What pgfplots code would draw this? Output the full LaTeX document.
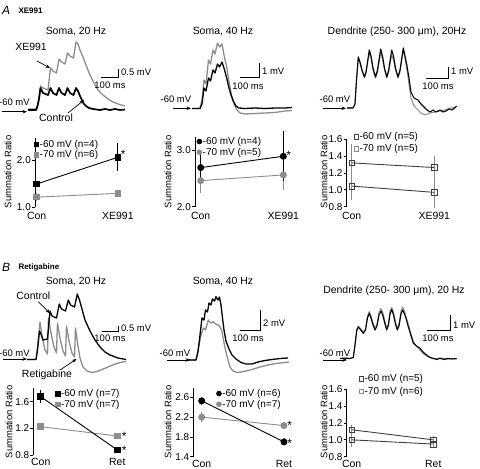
\documentclass[border=0pt]{standalone}
\usepackage{pgfplots}
\pgfplotsset{compat=1.18}
\usepackage{fontspec}
\setmainfont{Liberation Sans}
\usetikzlibrary{arrows.meta}
\definecolor{mg}{gray}{0.55}
\definecolor{dg}{gray}{0.25}
\newcommand{\fs}[1]{\fontsize{#1}{#1}\selectfont}
\tikzset{sstar/.style={font=\fs{12}, yshift=-1bp, inner sep=0pt}}
\pgfplotsset{
 sumplot/.style={scale only axis, anchor=south west, axis y line=left, axis x line=bottom,
   axis line style={-}, x axis line style={draw=none}, xtick={0,1}, major x tick style={draw=none},
   tick align=outside, major tick length=3bp, y axis line style={line width=0.8bp},
   every tick/.style={line width=0.8bp, black},
   tick label style={font=\fs{10}}, /pgf/number format/assume math mode=true,
   yticklabel style={inner sep=1pt, /pgf/number format/.cd, fixed, fixed zerofill, precision=1},
   xticklabel style={inner sep=1pt, font=\fs{10.5}}, clip=false, legend cell align=left,
   legend style={draw=none, fill=none, inner sep=0pt, font=\fs{10}, anchor=north west, row sep=0pt, nodes={inner sep=1pt}},
   legend image code/.code={\draw[mark repeat=2,mark phase=2,##1] plot coordinates {(0cm,0cm)(0.08cm,0cm)(0.16cm,0cm)};},
   every axis plot/.append style={line width=0.9bp},
 },
 rowA/.style={xticklabel style={yshift=-1.5bp}},
 rowB/.style={xticklabel style={yshift=1bp}},
 eb/.style={error bars/.cd, y dir=both, y explicit, error mark=none, error bar style={line width=0.9bp}},
 ebg/.style={error bars/.cd, y dir=both, y explicit, error mark=none, error bar style={line width=0.9bp, mg}},
 tr/.style={line width=1.3bp, line join=round},
 arr/.style={-{Stealth[length=4.5bp,width=3.5bp]}, line width=0.7bp, black},
}
\begin{document}
\begin{tikzpicture}
\useasboundingbox (0,0) rectangle (480bp,469bp);
% ---------------- canvas for traces (pixel coordinates, y downward) ----------------
\begin{axis}[at={(0,0)}, anchor=south west, scale only axis, width=480bp, height=469bp,
  xmin=0, xmax=480, ymin=0, ymax=469, y dir=reverse, hide axis, clip=false]
% panel letters
\node[font=\fs{12}\itshape] at (axis cs:6,10) {A};
\node[font=\fs{8}\bfseries, anchor=west] at (axis cs:15,10.5) {XE991};
\node[font=\fs{12}\itshape] at (axis cs:6,267) {B};
\node[font=\fs{8}\bfseries, anchor=west] at (axis cs:15,267.5) {Retigabine};
% titles
\node[font=\fs{10.5}] at (axis cs:76,32) {Soma, 20 Hz};
\node[font=\fs{10.5}] at (axis cs:223,32) {Soma, 40 Hz};
\node[font=\fs{10.5}] at (axis cs:397,32) {Dendrite (250- 300 μm), 20Hz};
\node[font=\fs{10.5}] at (axis cs:76,282) {Soma, 20 Hz};
\node[font=\fs{10.5}] at (axis cs:223,282) {Soma, 40 Hz};
\node[font=\fs{10.5}] at (axis cs:394,291) {Dendrite (250- 300 μm), 20 Hz};
% ---- A1 traces
\addplot[tr, mg] coordinates {(28,109)(37,109)(38,104)(40.5,86)(43,88)(48,90)(50.5,68)(53,71)(56.5,73)(59,59)(61.5,62)(65,64)(67.5,53)(70,56)(73.5,58)(76,42)(78,44)(80,50)(83,57)(86,65)(90,75)(94,83)(98,90)(103,95)(108,99)(113,102)(118,104)(125,106)};
\addplot[tr, black, line width=1.7bp] coordinates {(28,110)(36,110)(37.5,106)(39,99)(40.5,88)(43,93)(48,95)(50.5,88)(53,93)(56.5,95)(59,88)(61.5,93)(65,95)(67.5,88)(70,93)(73.5,95)(76,88)(78,91)(80,96)(82,100)(84,104)(86,106)(89,108)(93,109)(100,110)(105,109)(110,110)(115,109)(120,110)(125,109.5)};
% ---- A2 traces
\addplot[tr, mg] coordinates {(192,108.5)(200,108.5)(202,100)(204,80)(206,84)(208.5,60)(210.5,64)(213,50)(215,54)(217.5,43)(219.5,47)(222,44)(224,55)(226.7,67)(229,82)(231.5,95)(234,104)(237,110)(240,113)(245,114)(255,113.5)(265,113)(275,112.5)(285,111)(292,110.5)};
\addplot[tr, black] coordinates {(192,108.5)(200,108.5)(202,104)(204,88)(206,91)(208.5,78)(210.5,81)(213,70)(215,73)(217.5,64)(219.5,67)(222,62)(224,68)(226.7,78)(229,88)(231,95)(233.3,101)(236,106)(239,108)(245,108.5)(255,108)(265,108.5)(275,108)(285,108)(292,107.5)};
% ---- A3 traces
\addplot[tr, mg, line width=1bp] coordinates {(347,108)(353,108)(355,104)(356.5,80)(358.3,58)(360,63)(362,71)(364.5,78)(366,73)(369.3,53)(371,58)(373,70)(375.5,78)(377.5,72)(380.7,53)(382.5,59)(384.5,70)(386.8,78)(388.7,72)(391.7,55)(393.5,60)(395.5,70)(398,78)(400,72)(403.3,50)(405,58)(407,70)(409,84)(411,98)(414,106)(418,110)(421,113)(425,115)(430,113)(435,112)(440,111)(445,110)(450,108)(456,108)};
\addplot[tr, black, line width=1.1bp] coordinates {(347,108)(353,108)(355,104)(356.5,80)(358.3,57)(360,62)(362,70)(364.5,77)(366,72)(369.3,50)(371,56)(373,68)(375.5,77)(377.5,70)(380.7,49)(382.5,56)(384.5,68)(386.8,77)(388.7,70)(391.7,50)(393.5,56)(395.5,68)(398,77)(400,70)(403.3,48)(405,56)(407,66)(409,78)(411,92)(414,98)(418,100)(421,104)(424,107)(427,110)(430,112)(433,110)(436,112)(440,110)(443,112)(446,111)(449,109)(452,110)(456.7,106)};
% ---- B1 traces
\addplot[tr, mg] coordinates {(27,359.5)(36,359.5)(37.5,348)(40,322)(42,336)(45,350)(47.5,354)(48.5,318)(51,333)(54,347)(56.5,353)(57.5,323)(60,338)(63,351)(65.5,356)(66.5,326)(69,341)(72,353)(74.5,357)(75.5,328)(78,346)(80,358)(83,367)(87,371)(92,372.5)(97,371.5)(102,369.5)(108,367)(114,364.5)(120,362.5)(126,361.5)};
\addplot[tr, black] coordinates {(27,359.5)(36,359.5)(37.5,350)(39.5,331)(41,334)(43,340)(47.5,339)(50,311)(52,316)(56.5,318)(59.3,304)(61.5,309)(65.5,311)(68.3,300)(70.5,305)(74.5,307)(77.3,294)(79.5,300)(82,309)(85,320)(90,331)(95,340)(100,347)(105,352)(110,355)(118,358)(126,359.5)};
% ---- B2 traces
\addplot[tr, mg] coordinates {(187,360)(196,360)(198,350)(201,335)(203.3,328)(205.5,330)(208.3,320)(210.5,323)(213.3,321.7)(215.5,324)(218.3,325)(220,327)(221.7,330)(223.5,340)(225.5,350)(228,360)(230,367)(233,371)(237,372.5)(241,372)(246,371)(252,369.5)(260,367)(268,365)(276,363.5)(284,362.5)(289,362)};
\addplot[tr, black] coordinates {(187,360)(196,360)(198,352)(200,335)(202,318)(204,320)(205.5,310)(207.5,312)(209,303)(211,305)(212.5,299)(214.5,301)(216,296.7)(218,300)(219.5,297)(221,305)(222.5,318)(224,330)(226,341)(229,349)(232,355)(236,359)(241,362.5)(246,364)(252,364)(258,362)(265,360.5)(272,359.5)(280,358.5)(288,358)};
% ---- B3 traces
\addplot[tr, mg, line width=1bp] coordinates {(340,358.5)(350,358.5)(353.3,357.5)(355,345)(356.8,330)(358.3,326)(360,328)(363.3,332)(365.5,329)(367.5,316)(369.3,311.5)(371,316)(373,323)(375,328)(377,324)(379,312)(381,308.5)(383,313)(385,322)(386.7,328)(388.5,323)(390,311)(391.7,307.5)(393.5,312)(395.5,322)(397.3,328)(399,324)(401,311)(402.7,307)(404.5,311)(406.5,318)(408.3,324)(410.5,332)(413.3,341)(416.5,346)(420,350)(423,353.5)(426.7,356)(430,357.5)(433.3,358.8)(437,358.5)(440,359)(444,358.5)(448,359)(452,358.5)(456.7,359)};
\addplot[tr, black, line width=1.1bp] coordinates {(340,358.5)(346,358)(350,358.5)(353.3,357.5)(355,345)(356.8,330)(358.3,327)(360,329)(363.3,333.3)(365.5,330)(367.5,318)(369.3,313.3)(371,318)(373,325)(375,330)(377,326)(379,315)(381,311)(383,316)(385,324)(386.7,330)(388.5,325)(390,314)(391.7,309.5)(393.5,315)(395.5,324)(397.3,330)(399,326)(401,314)(402.7,310)(404.5,314)(406.5,320)(408.3,326.7)(410.5,334)(413.3,343.3)(416.5,346)(420,348.3)(423,352)(426.7,355)(430,357.5)(433.3,358.3)(437,359.5)(440,358)(444,359.5)(448,358.5)(452,359)(456.7,358.5)};
% ---- scale bars
\addplot[black, line width=0.8bp] coordinates {(101,77.3)(118.3,77.3)(118.3,69.3)};
\addplot[black, line width=0.8bp] coordinates {(240,77.3)(259.3,77.3)(259.3,63.3)};
\addplot[black, line width=0.8bp] coordinates {(426,78.3)(448.3,78.3)(448.3,66.7)};
\addplot[black, line width=0.8bp] coordinates {(101.7,331.7)(118.3,331.7)(118.3,326)};
\addplot[black, line width=0.8bp] coordinates {(240,330)(260,330)(260,310)};
\addplot[black, line width=0.8bp] coordinates {(427.3,330)(450,330)(450,315)};
\node[font=\fs{9.5}, anchor=west, inner sep=0pt] at (axis cs:121,72) {0.5 mV};
\node[font=\fs{9.5}] at (axis cs:110,85) {100 ms};
\node[font=\fs{9.5}, anchor=west, inner sep=0pt] at (axis cs:262,71) {1 mV};
\node[font=\fs{9.5}] at (axis cs:248,86) {100 ms};
\node[font=\fs{9.5}, anchor=west, inner sep=0pt] at (axis cs:451,71) {1 mV};
\node[font=\fs{9.5}] at (axis cs:438,86) {100 ms};
\node[font=\fs{9.5}, anchor=west, inner sep=0pt] at (axis cs:121,328) {0.5 mV};
\node[font=\fs{9.5}] at (axis cs:110,338) {100 ms};
\node[font=\fs{9.5}, anchor=west, inner sep=0pt] at (axis cs:263,323) {2 mV};
\node[font=\fs{9.5}] at (axis cs:248,338.5) {100 ms};
\node[font=\fs{9.5}, anchor=west, inner sep=0pt] at (axis cs:453,325) {1 mV};
\node[font=\fs{9.5}] at (axis cs:438,338.5) {100 ms};
% ---- -60 mV labels and arrows
\node[font=\fs{9.5}, anchor=west, inner sep=0pt] at (axis cs:-1,102) {-60 mV};
\node[font=\fs{9.5}, anchor=west, inner sep=0pt] at (axis cs:160.5,99.5) {-60 mV};
\node[font=\fs{9.5}, anchor=west, inner sep=0pt] at (axis cs:319.5,99.5) {-60 mV};
\node[font=\fs{9.5}, anchor=west, inner sep=0pt] at (axis cs:-1,353.5) {-60 mV};
\node[font=\fs{9.5}, anchor=west, inner sep=0pt] at (axis cs:159.5,353.5) {-60 mV};
\node[font=\fs{9.5}, anchor=west, inner sep=0pt] at (axis cs:319.5,353.5) {-60 mV};
\addplot[arr] coordinates {(2,111.7)(27,111.7)};
\addplot[arr] coordinates {(173,108.3)(191,108.3)};
\addplot[arr] coordinates {(323,108.3)(346,108.3)};
\addplot[arr] coordinates {(3,359)(27,359)};
\addplot[arr] coordinates {(167,360)(190,360)};
\addplot[arr] coordinates {(323,360)(347,360)};
% ---- trace annotations
\node[font=\fs{10.5}] at (axis cs:31,47) {XE991};
\addplot[arr] coordinates {(37,61)(50,68)};
\node[font=\fs{10.5}] at (axis cs:56,117.5) {Control};
\addplot[arr] coordinates {(68,113)(84,100)};
\node[font=\fs{10.5}] at (axis cs:33.3,296) {Control};
\addplot[arr] coordinates {(38.3,301.7)(50,313.3)};
\node[font=\fs{10.5}] at (axis cs:47,374.3) {Retigabine};
\addplot[arr] coordinates {(60,370)(76.5,359)};
% ---- y labels
\node[font=\fs{9.5}, rotate=90] at (axis cs:8,172) {Summation Ratio};
\node[font=\fs{9.5}, rotate=90] at (axis cs:168,172) {Summation Ratio};
\node[font=\fs{9.5}, rotate=90] at (axis cs:324,172) {Summation Ratio};
\node[font=\fs{9.5}, rotate=90] at (axis cs:9,422) {Summation Ratio};
\node[font=\fs{9.5}, rotate=90] at (axis cs:168,422) {Summation Ratio};
\node[font=\fs{9.5}, rotate=90] at (axis cs:324,422) {Summation Ratio};
\end{axis}
% ---------------- A1 summation ----------------
\begin{axis}[sumplot, rowA, at={(35bp,262bp)}, width=90bp, height=69bp, xmin=-0.02, xmax=1.087, ymin=1, ymax=2.47,
  ytick={1,2}, xticklabels={Con,XE991}, legend style={at={(-0.01,0.99)}}]
\addlegendimage{only marks, mark=square*, mark size=2.2bp, black}
\addlegendentry{-60 mV (n=4)}
\addlegendimage{only marks, mark=square*, mark size=2.2bp, mg}
\addlegendentry{-70 mV (n=6)}
\addplot[forget plot, mg, mark=square*, mark size=2.8bp, eb] coordinates {(0,1.21) +- (0,0.08) (1,1.29) +- (0,0.07)};
\addplot[forget plot, black, mark=square*, mark size=2.8bp, eb] coordinates {(0,1.49) +- (0,0.03) (1,2.06) +- (0,0.3)};
\node[sstar] at (axis cs:1.065,2.14) {*};
\end{axis}
% ---------------- A2 summation ----------------
\begin{axis}[sumplot, rowA, at={(195bp,262.3bp)}, width=95bp, height=70bp, xmin=-0.069, xmax=1.081, ymin=2, ymax=3.235,
  ytick={2,3}, xticklabels={Con,XE991}, legend style={at={(0.02,1.01)}}]
\addlegendimage{only marks, mark=*, mark size=2.3bp, black}
\addlegendentry{-60 mV (n=4)}
\addlegendimage{only marks, mark=*, mark size=2.3bp, mg}
\addlegendentry{-70 mV (n=5)}
\addplot[forget plot, mg, mark=*, mark size=3bp, eb] coordinates {(0,2.46) +- (0,0.22) (1,2.56) +- (0,0.27)};
\addplot[forget plot, black, mark=*, mark size=3bp, eb] coordinates {(0,2.69) +- (0,0.25) (1,2.89) +- (0,0.44)};
\node[sstar] at (axis cs:1.065,2.92) {*};
\end{axis}
% ---------------- A3 summation ----------------
\begin{axis}[sumplot, rowA, at={(346.7bp,262.3bp)}, width=95bp, height=67.4bp, xmin=-0.06, xmax=1.09, ymin=0.8, ymax=1.6,
  ytick={0.8,1.0,1.2,1.4,1.6}, xticklabels={Con,XE991}, legend style={at={(0.077,1.12)}, row sep=1.5pt}]
\addlegendimage{only marks, mark=square, mark size=2.2bp, dg, mark options={line width=0.7bp}}
\addlegendentry{-60 mV (n=5)}
\addlegendimage{only marks, mark=square, mark size=2.2bp, mg, mark options={line width=0.7bp}}
\addlegendentry{-70 mV (n=5)}
\addplot[forget plot, dg, mark=square, mark size=2.8bp, mark options={line width=0.7bp}, ebg] coordinates {(0,1.045) +- (0,0.16) (1,0.97) +- (0,0.19)};
\addplot[forget plot, dg, mark=square, mark size=2.8bp, mark options={line width=0.7bp}, ebg] coordinates {(0,1.32) +- (0,0.22) (1,1.265) +- (0,0.14)};
\end{axis}
% ---------------- B1 summation ----------------
\begin{axis}[sumplot, rowB, at={(33.3bp,14bp)}, width=92bp, height=66.7bp, xmin=-0.097, xmax=1.104, ymin=0.8, ymax=1.8,
  ytick={0.8,1.2,1.6}, xticklabels={Con,Ret}, legend style={at={(0.241,1.0)}}]
\addlegendimage{only marks, mark=square*, mark size=2.2bp, black}
\addlegendentry{-60 mV (n=7)}
\addlegendimage{only marks, mark=square*, mark size=2.2bp, mg}
\addlegendentry{-70 mV (n=7)}
\addplot[forget plot, mg, mark=square*, mark size=2.8bp, eb] coordinates {(0,1.225) +- (0,0.03) (1,1.085) +- (0,0.03)};
\addplot[forget plot, black, mark=square*, mark size=2.8bp, eb] coordinates {(0,1.675) +- (0,0.1) (1,0.875) +- (0,0.03)};
\node[sstar] at (axis cs:1.09,1.1) {*};
\node[sstar] at (axis cs:1.09,0.89) {*};
\end{axis}
% ---------------- B2 summation ----------------
\begin{axis}[sumplot, rowB, at={(193.3bp,12.3bp)}, width=99bp, height=68.7bp, xmin=-0.102, xmax=1.101, ymin=1.4, ymax=2.79,
  ytick={1.4,1.8,2.2,2.6}, xticklabels={Con,Ret}, legend style={at={(0.234,1.0)}}]
\addlegendimage{only marks, mark=*, mark size=2.3bp, black}
\addlegendentry{-60 mV (n=6)}
\addlegendimage{only marks, mark=*, mark size=2.3bp, mg}
\addlegendentry{-70 mV (n=7)}
\addplot[forget plot, mg, mark=*, mark size=3bp, eb] coordinates {(0,2.2) +- (0,0.1) (1,2.03) +- (0,0.07)};
\addplot[forget plot, black, mark=*, mark size=3bp, eb] coordinates {(0,2.53) +- (0,0.08) (1,1.70) +- (0,0.07)};
\node[sstar] at (axis cs:1.07,2.06) {*};
\node[sstar] at (axis cs:1.07,1.69) {*};
\end{axis}
% ---------------- B3 summation ----------------
\begin{axis}[sumplot, rowB, at={(346.7bp,12.3bp)}, width=95bp, height=67.4bp, xmin=-0.061, xmax=1.103, ymin=0.8, ymax=1.6,
  ytick={0.8,1.0,1.2,1.4,1.6}, xticklabels={Con,Ret}, legend style={at={(0.13,1.235)}, row sep=1.5pt}]
\addlegendimage{only marks, mark=square, mark size=2.2bp, dg, mark options={line width=0.7bp}}
\addlegendentry{-60 mV (n=5)}
\addlegendimage{only marks, mark=square, mark size=2.2bp, mg, mark options={line width=0.7bp}}
\addlegendentry{-70 mV (n=6)}
\addplot[forget plot, dg, mark=square, mark size=2.8bp, mark options={line width=0.7bp}, ebg] coordinates {(0,1.0) +- (0,0.08) (1,0.95) +- (0,0.05)};
\addplot[forget plot, dg, mark=square, mark size=2.8bp, mark options={line width=0.7bp}, ebg] coordinates {(0,1.12) +- (0,0.06) (1,1.0) +- (0,0.04)};
\end{axis}
\end{tikzpicture}
\end{document}
